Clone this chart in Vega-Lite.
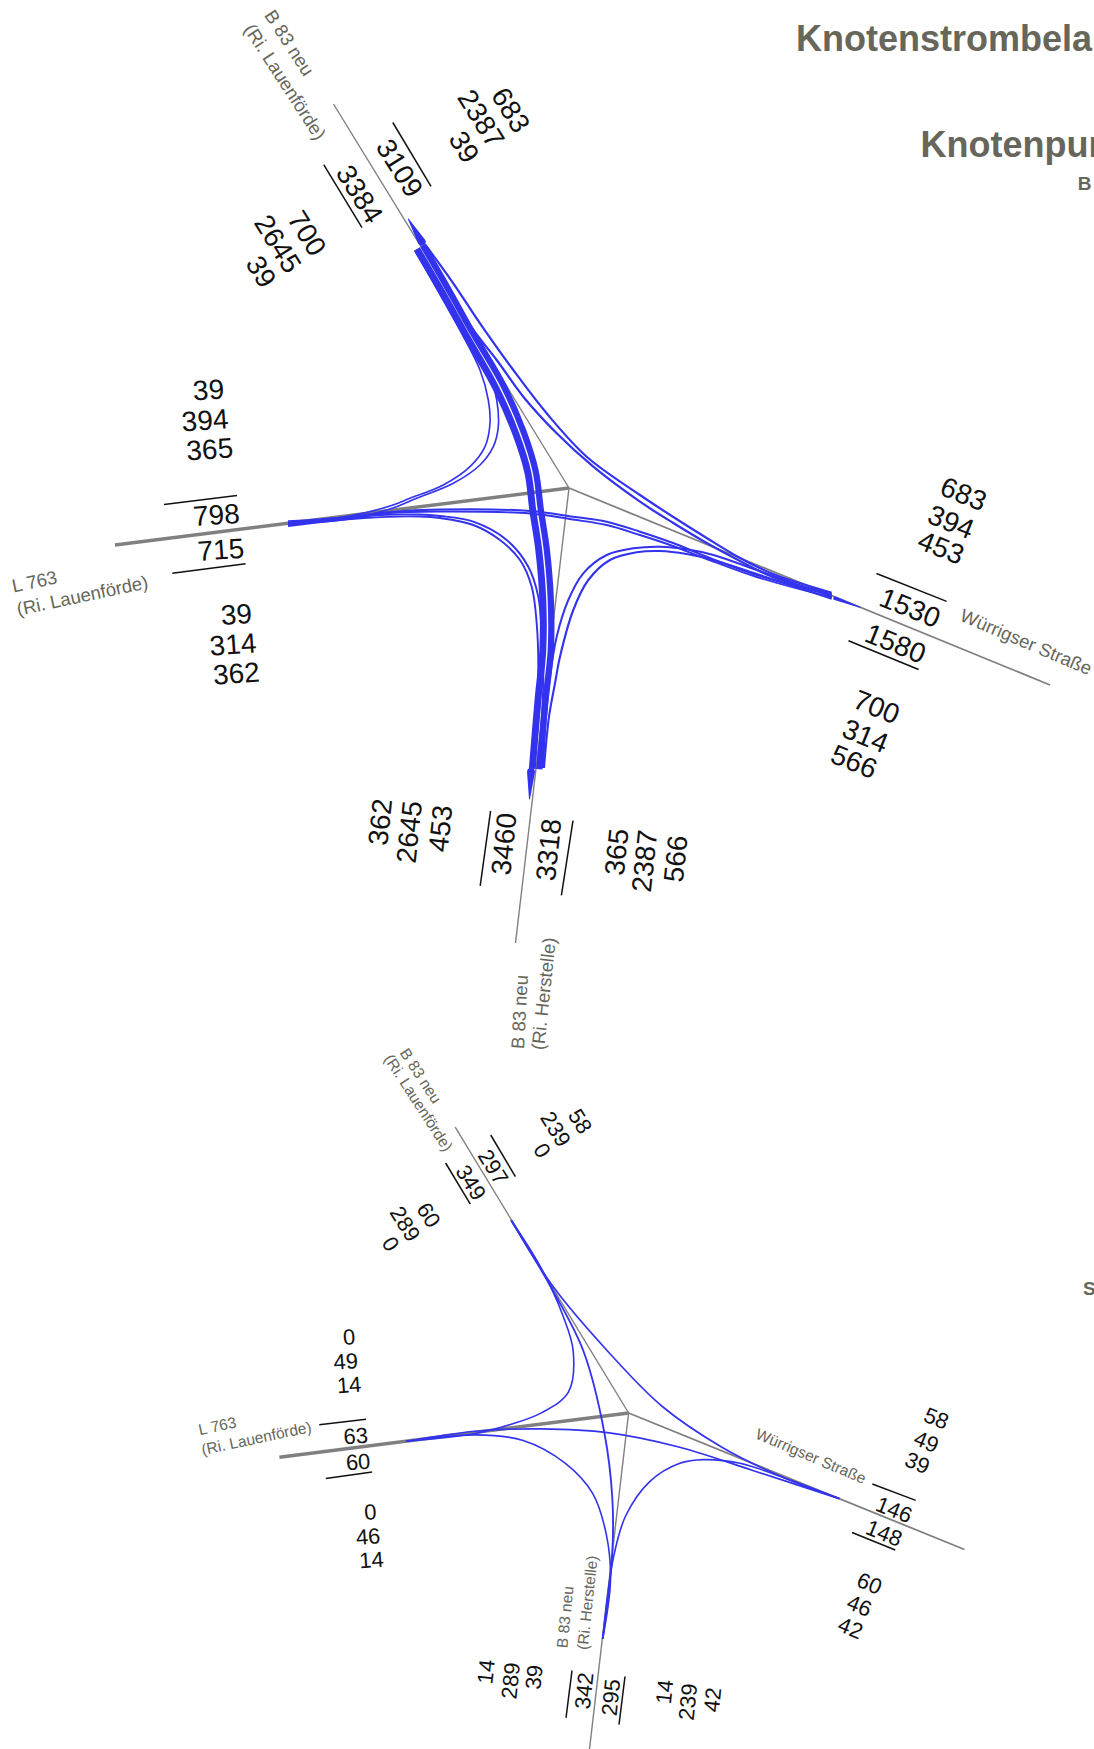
{"$schema":"https://vega.github.io/schema/vega-lite/v6.json","width":1094,"height":1749,"padding":0,"autosize":{"type":"none"},"background":"white","config":{"view":{"stroke":null},"text":{"font":"Liberation Sans"}},
"datasets":{
"roads":[
{"junction":"oben","arm":"NW","x":569,"y":488,"x2":333.5,"y2":104},
{"junction":"oben","arm":"W","x":569,"y":488,"x2":115,"y2":545},
{"junction":"oben","arm":"SE","x":569,"y":488,"x2":1050,"y2":685},
{"junction":"oben","arm":"S","x":569,"y":488,"x2":515.5,"y2":943},
{"junction":"unten","arm":"NW","x":628.6,"y":1413,"x2":455.2,"y2":1127.2},
{"junction":"unten","arm":"W","x":628.6,"y":1413,"x2":279.4,"y2":1457.3},
{"junction":"unten","arm":"SE","x":628.6,"y":1413,"x2":964.5,"y2":1549.5},
{"junction":"unten","arm":"S","x":628.6,"y":1413,"x2":589.5,"y2":1749}],
"ticks":[
{"x":392.8,"y":122.5,"x2":431,"y2":186.4},{"x":323.7,"y":164.6,"x2":362,"y2":227.7},
{"x":164,"y":504.4,"x2":237,"y2":495.6},{"x":172.3,"y":573.3,"x2":245.6,"y2":563.7},
{"x":876.5,"y":573.5,"x2":946.6,"y2":601.4},{"x":848.5,"y":640.8,"x2":918.6,"y2":669.5},
{"x":490.6,"y":810.8,"x2":480.2,"y2":885.8},{"x":573,"y":820.7,"x2":561.4,"y2":895.3},
{"x":490.7,"y":1135,"x2":515.4,"y2":1176.7},{"x":445.6,"y":1163,"x2":470.3,"y2":1204.2},
{"x":319.2,"y":1424.8,"x2":366.1,"y2":1419.3},{"x":325.8,"y":1478.4,"x2":372.1,"y2":1472},
{"x":872.4,"y":1484,"x2":915.7,"y2":1500.4},{"x":852,"y":1532.5,"x2":895.3,"y2":1550},
{"x":572,"y":1670.5,"x2":566,"y2":1717.8},{"x":625,"y":1676.5,"x2":619,"y2":1724.6}],
"streams":[
{"stream":"NW-W a","volume":39,"x":415,"y":251},{"stream":"NW-W a","volume":39,"x":439.5,"y":293.5},{"stream":"NW-W a","volume":39,"x":461.7,"y":333.3},{"stream":"NW-W a","volume":39,"x":480,"y":370},{"stream":"NW-W a","volume":39,"x":488.3,"y":400},{"stream":"NW-W a","volume":39,"x":490,"y":423.3},{"stream":"NW-W a","volume":39,"x":485,"y":446.7},{"stream":"NW-W a","volume":39,"x":470,"y":466.7},{"stream":"NW-W a","volume":39,"x":443.3,"y":485},{"stream":"NW-W a","volume":39,"x":410,"y":498.3},{"stream":"NW-W a","volume":39,"x":390,"y":506},{"stream":"NW-W a","volume":39,"x":349,"y":516},{"stream":"NW-W a","volume":39,"x":288,"y":521},
{"stream":"NW-W b","volume":39,"x":417,"y":250},{"stream":"NW-W b","volume":39,"x":443,"y":295},{"stream":"NW-W b","volume":39,"x":470,"y":346.7},{"stream":"NW-W b","volume":39,"x":490,"y":376.7},{"stream":"NW-W b","volume":39,"x":496.7,"y":400},{"stream":"NW-W b","volume":39,"x":498.3,"y":426.7},{"stream":"NW-W b","volume":39,"x":493.3,"y":446.7},{"stream":"NW-W b","volume":39,"x":480,"y":465},{"stream":"NW-W b","volume":39,"x":453.3,"y":483.3},{"stream":"NW-W b","volume":39,"x":416.7,"y":498.3},{"stream":"NW-W b","volume":39,"x":390,"y":509},{"stream":"NW-W b","volume":39,"x":349,"y":518},{"stream":"NW-W b","volume":39,"x":288,"y":522},
{"stream":"NW-SE a","volume":683,"x":425.5,"y":245},{"stream":"NW-SE a","volume":683,"x":453.3,"y":283.3},{"stream":"NW-SE a","volume":683,"x":480,"y":323.3},{"stream":"NW-SE a","volume":683,"x":513.3,"y":370},{"stream":"NW-SE a","volume":683,"x":546.7,"y":413.3},{"stream":"NW-SE a","volume":683,"x":586.7,"y":456.7},{"stream":"NW-SE a","volume":683,"x":640,"y":495},{"stream":"NW-SE a","volume":683,"x":673.3,"y":517},{"stream":"NW-SE a","volume":683,"x":706.7,"y":538},{"stream":"NW-SE a","volume":683,"x":740,"y":558},{"stream":"NW-SE a","volume":683,"x":773.3,"y":574},{"stream":"NW-SE a","volume":683,"x":831.7,"y":592.7},
{"stream":"NW-SE b","volume":700,"x":424,"y":246},{"stream":"NW-SE b","volume":700,"x":446.7,"y":290},{"stream":"NW-SE b","volume":700,"x":473.3,"y":330},{"stream":"NW-SE b","volume":700,"x":496.7,"y":360},{"stream":"NW-SE b","volume":700,"x":523.3,"y":396.7},{"stream":"NW-SE b","volume":700,"x":556.7,"y":433.3},{"stream":"NW-SE b","volume":700,"x":593.3,"y":466.7},{"stream":"NW-SE b","volume":700,"x":640,"y":501.7},{"stream":"NW-SE b","volume":700,"x":673.3,"y":523},{"stream":"NW-SE b","volume":700,"x":706.7,"y":543},{"stream":"NW-SE b","volume":700,"x":740,"y":561},{"stream":"NW-SE b","volume":700,"x":773,"y":577},{"stream":"NW-SE b","volume":700,"x":831.7,"y":594.3},
{"stream":"NW-S a","volume":2645,"x":416.9,"y":249},{"stream":"NW-S a","volume":2645,"x":441.9,"y":292},{"stream":"NW-S a","volume":2645,"x":465.8,"y":334.9},{"stream":"NW-S a","volume":2645,"x":496.2,"y":388.7},{"stream":"NW-S a","volume":2645,"x":516,"y":434.3},{"stream":"NW-S a","volume":2645,"x":527.9,"y":472.7},{"stream":"NW-S a","volume":2645,"x":532.8,"y":510.5},{"stream":"NW-S a","volume":2645,"x":538.8,"y":550.4},{"stream":"NW-S a","volume":2645,"x":542.8,"y":600},{"stream":"NW-S a","volume":2645,"x":542.8,"y":650},{"stream":"NW-S a","volume":2645,"x":538,"y":699.7},{"stream":"NW-S a","volume":2645,"x":532.3,"y":768.7},
{"stream":"NW-S b","volume":2387,"x":422.8,"y":245.2},{"stream":"NW-S b","volume":2387,"x":447.8,"y":288.2},{"stream":"NW-S b","volume":2387,"x":471.8,"y":331.3},{"stream":"NW-S b","volume":2387,"x":503.4,"y":385.5},{"stream":"NW-S b","volume":2387,"x":523.6,"y":431.9},{"stream":"NW-S b","volume":2387,"x":535.7,"y":471.4},{"stream":"NW-S b","volume":2387,"x":540.8,"y":509.6},{"stream":"NW-S b","volume":2387,"x":546.8,"y":549.7},{"stream":"NW-S b","volume":2387,"x":550.8,"y":600},{"stream":"NW-S b","volume":2387,"x":550.8,"y":650},{"stream":"NW-S b","volume":2387,"x":545.5,"y":700.3},{"stream":"NW-S b","volume":2387,"x":539.3,"y":769.3},
{"stream":"W-SE a","volume":394,"x":288,"y":523},{"stream":"W-SE a","volume":394,"x":340,"y":518},{"stream":"W-SE a","volume":394,"x":390,"y":512},{"stream":"W-SE a","volume":394,"x":440,"y":509.5},{"stream":"W-SE a","volume":394,"x":530,"y":511},{"stream":"W-SE a","volume":394,"x":573,"y":516.7},{"stream":"W-SE a","volume":394,"x":606.7,"y":521.7},{"stream":"W-SE a","volume":394,"x":640,"y":531.7},{"stream":"W-SE a","volume":394,"x":673,"y":543},{"stream":"W-SE a","volume":394,"x":706.7,"y":556.7},{"stream":"W-SE a","volume":394,"x":756.7,"y":575},{"stream":"W-SE a","volume":394,"x":831.7,"y":595.5},
{"stream":"W-SE b","volume":314,"x":288,"y":524},{"stream":"W-SE b","volume":314,"x":340,"y":520},{"stream":"W-SE b","volume":314,"x":390,"y":513},{"stream":"W-SE b","volume":314,"x":440,"y":511.5},{"stream":"W-SE b","volume":314,"x":530,"y":513.5},{"stream":"W-SE b","volume":314,"x":573,"y":519.5},{"stream":"W-SE b","volume":314,"x":606.7,"y":525},{"stream":"W-SE b","volume":314,"x":640,"y":535},{"stream":"W-SE b","volume":314,"x":673,"y":546},{"stream":"W-SE b","volume":314,"x":706.7,"y":559},{"stream":"W-SE b","volume":314,"x":756.7,"y":577},{"stream":"W-SE b","volume":314,"x":831.7,"y":597.5},
{"stream":"W-S a","volume":365,"x":288,"y":525},{"stream":"W-S a","volume":365,"x":364,"y":516},{"stream":"W-S a","volume":365,"x":420,"y":514.5},{"stream":"W-S a","volume":365,"x":440,"y":516},{"stream":"W-S a","volume":365,"x":473.3,"y":521.7},{"stream":"W-S a","volume":365,"x":506.7,"y":540},{"stream":"W-S a","volume":365,"x":528.3,"y":566.7},{"stream":"W-S a","volume":365,"x":538.3,"y":596.7},{"stream":"W-S a","volume":365,"x":541.7,"y":633.3},{"stream":"W-S a","volume":365,"x":543.3,"y":683.3},{"stream":"W-S a","volume":365,"x":538.3,"y":766.7},
{"stream":"W-S b","volume":362,"x":288,"y":526},{"stream":"W-S b","volume":362,"x":364,"y":518},{"stream":"W-S b","volume":362,"x":420,"y":516.5},{"stream":"W-S b","volume":362,"x":440,"y":518},{"stream":"W-S b","volume":362,"x":473.3,"y":525},{"stream":"W-S b","volume":362,"x":500,"y":540},{"stream":"W-S b","volume":362,"x":520,"y":560},{"stream":"W-S b","volume":362,"x":531.7,"y":586.7},{"stream":"W-S b","volume":362,"x":536.7,"y":623.3},{"stream":"W-S b","volume":362,"x":538.3,"y":666.7},{"stream":"W-S b","volume":362,"x":536.7,"y":716.7},{"stream":"W-S b","volume":362,"x":533.3,"y":766.7},
{"stream":"S-SE a","volume":453,"x":543,"y":768},{"stream":"S-SE a","volume":453,"x":546,"y":716.7},{"stream":"S-SE a","volume":453,"x":550,"y":676.7},{"stream":"S-SE a","volume":453,"x":556.7,"y":636.7},{"stream":"S-SE a","volume":453,"x":568.3,"y":600},{"stream":"S-SE a","volume":453,"x":583.3,"y":573.3},{"stream":"S-SE a","volume":453,"x":606.7,"y":555},{"stream":"S-SE a","volume":453,"x":633.3,"y":548.3},{"stream":"S-SE a","volume":453,"x":660,"y":546.7},{"stream":"S-SE a","volume":453,"x":686.7,"y":549.3},{"stream":"S-SE a","volume":453,"x":713.3,"y":555},{"stream":"S-SE a","volume":453,"x":756.7,"y":570},{"stream":"S-SE a","volume":453,"x":831.7,"y":596.5},
{"stream":"S-SE b","volume":566,"x":544,"y":768},{"stream":"S-SE b","volume":566,"x":549,"y":716.7},{"stream":"S-SE b","volume":566,"x":555,"y":683.3},{"stream":"S-SE b","volume":566,"x":560,"y":656.7},{"stream":"S-SE b","volume":566,"x":573.3,"y":610},{"stream":"S-SE b","volume":566,"x":588.3,"y":580},{"stream":"S-SE b","volume":566,"x":610,"y":560},{"stream":"S-SE b","volume":566,"x":636.7,"y":552.3},{"stream":"S-SE b","volume":566,"x":660,"y":551},{"stream":"S-SE b","volume":566,"x":686.7,"y":554},{"stream":"S-SE b","volume":566,"x":713.3,"y":560},{"stream":"S-SE b","volume":566,"x":756.7,"y":574},{"stream":"S-SE b","volume":566,"x":831.7,"y":598.7},
{"stream":"u NW-W","volume":14,"x":511.2,"y":1220.3},{"stream":"u NW-W","volume":14,"x":541.3,"y":1268.4},{"stream":"u NW-W","volume":14,"x":562.4,"y":1314.3},{"stream":"u NW-W","volume":14,"x":573.2,"y":1351},{"stream":"u NW-W","volume":14,"x":568.4,"y":1392.2},{"stream":"u NW-W","volume":14,"x":541.3,"y":1412.9},{"stream":"u NW-W","volume":14,"x":511.2,"y":1424.3},{"stream":"u NW-W","volume":14,"x":475.1,"y":1433.5},{"stream":"u NW-W","volume":14,"x":405.9,"y":1441.3},
{"stream":"u NW-SE","volume":60,"x":511.2,"y":1220.3},{"stream":"u NW-SE","volume":60,"x":553.3,"y":1286.8},{"stream":"u NW-SE","volume":60,"x":607.5,"y":1351},{"stream":"u NW-SE","volume":60,"x":661.7,"y":1406},{"stream":"u NW-SE","volume":60,"x":721.9,"y":1447.2},{"stream":"u NW-SE","volume":60,"x":782.1,"y":1477},{"stream":"u NW-SE","volume":60,"x":839.3,"y":1498.6},
{"stream":"u NW-S","volume":289,"x":511.2,"y":1220.3},{"stream":"u NW-S","volume":289,"x":553.3,"y":1291.3},{"stream":"u NW-S","volume":289,"x":583.4,"y":1351},{"stream":"u NW-S","volume":289,"x":604.5,"y":1433.5},{"stream":"u NW-S","volume":289,"x":612.3,"y":1497.7},{"stream":"u NW-S","volume":289,"x":612.3,"y":1552.7},{"stream":"u NW-S","volume":289,"x":602.7,"y":1638.9},
{"stream":"u W-SE","volume":49,"x":405.9,"y":1441.3},{"stream":"u W-SE","volume":49,"x":475.1,"y":1431.2},{"stream":"u W-SE","volume":49,"x":541.3,"y":1428.9},{"stream":"u W-SE","volume":49,"x":607.5,"y":1432.6},{"stream":"u W-SE","volume":49,"x":679.8,"y":1447.2},{"stream":"u W-SE","volume":49,"x":752,"y":1470.2},{"stream":"u W-SE","volume":49,"x":839.3,"y":1498.6},
{"stream":"u W-S","volume":14,"x":405.9,"y":1441.3},{"stream":"u W-S","volume":14,"x":475.1,"y":1434.9},{"stream":"u W-S","volume":14,"x":523.2,"y":1440.4},{"stream":"u W-S","volume":14,"x":565.4,"y":1463.3},{"stream":"u W-S","volume":14,"x":592.5,"y":1493.1},{"stream":"u W-S","volume":14,"x":606.3,"y":1534.4},{"stream":"u W-S","volume":14,"x":610.5,"y":1580.2},{"stream":"u W-S","volume":14,"x":602.7,"y":1638.9},
{"stream":"u S-SE","volume":42,"x":602.7,"y":1638.9},{"stream":"u S-SE","volume":42,"x":613.5,"y":1557.3},{"stream":"u S-SE","volume":42,"x":625.6,"y":1516},{"stream":"u S-SE","volume":42,"x":649.7,"y":1481.6},{"stream":"u S-SE","volume":42,"x":679.8,"y":1463.3},{"stream":"u S-SE","volume":42,"x":703.8,"y":1459.6},{"stream":"u S-SE","volume":42,"x":740,"y":1463.3},{"stream":"u S-SE","volume":42,"x":782.1,"y":1477},{"stream":"u S-SE","volume":42,"x":839.3,"y":1498.6}],
"wedges":[
{"arm":"NW","volume":0,"x":408.3,"y":219},{"arm":"NW","volume":3384,"x":421.7,"y":241.7},
{"arm":"SE","volume":0,"x":860,"y":607.3},{"arm":"SE","volume":1580,"x":835,"y":598.3},
{"arm":"S","volume":0,"x":529.5,"y":799},{"arm":"S","volume":3460,"x":531,"y":772}],
"numbers":[
{"junction":"oben","arm":"NW","text":"683","x":510.7,"y":110},{"junction":"oben","arm":"NW","text":"2387","x":481,"y":118.6},{"junction":"oben","arm":"NW","text":"39","x":464,"y":147},{"junction":"oben","arm":"NW","text":"3109","x":399.5,"y":168},{"junction":"oben","arm":"NW","text":"3384","x":359.5,"y":194},{"junction":"oben","arm":"NW","text":"700","x":307,"y":233.4},{"junction":"oben","arm":"NW","text":"2645","x":277.7,"y":243.8},{"junction":"oben","arm":"NW","text":"39","x":261,"y":271.7},
{"junction":"oben","arm":"W","text":"39","x":208.5,"y":390},{"junction":"oben","arm":"W","text":"394","x":205,"y":420.4},{"junction":"oben","arm":"W","text":"365","x":209.7,"y":449.4},{"junction":"oben","arm":"W","text":"798","x":216.3,"y":515},{"junction":"oben","arm":"W","text":"715","x":220.8,"y":549.8},{"junction":"oben","arm":"W","text":"39","x":236.4,"y":614.5},{"junction":"oben","arm":"W","text":"314","x":233,"y":644.6},{"junction":"oben","arm":"W","text":"362","x":236.4,"y":673.6},
{"junction":"oben","arm":"SE","text":"683","x":963.5,"y":494},{"junction":"oben","arm":"SE","text":"394","x":951,"y":522},{"junction":"oben","arm":"SE","text":"453","x":941,"y":547.6},{"junction":"oben","arm":"SE","text":"1530","x":910,"y":607.8},{"junction":"oben","arm":"SE","text":"1580","x":895.5,"y":643.5},{"junction":"oben","arm":"SE","text":"700","x":876.5,"y":707},{"junction":"oben","arm":"SE","text":"314","x":865.4,"y":736},{"junction":"oben","arm":"SE","text":"566","x":854,"y":761.7},
{"junction":"oben","arm":"S","text":"362","x":380.3,"y":822},{"junction":"oben","arm":"S","text":"2645","x":409.3,"y":832},{"junction":"oben","arm":"S","text":"453","x":440.5,"y":828.6},{"junction":"oben","arm":"S","text":"3460","x":504,"y":844},{"junction":"oben","arm":"S","text":"3318","x":548.7,"y":849.8},{"junction":"oben","arm":"S","text":"365","x":616.7,"y":852},{"junction":"oben","arm":"S","text":"2387","x":644.6,"y":861},{"junction":"oben","arm":"S","text":"566","x":675.8,"y":858.7},
{"junction":"unten","arm":"W","text":"0","x":349,"y":1336},{"junction":"unten","arm":"W","text":"49","x":345.7,"y":1360.5},{"junction":"unten","arm":"W","text":"14","x":349,"y":1384},{"junction":"unten","arm":"W","text":"63","x":355.7,"y":1435},{"junction":"unten","arm":"W","text":"60","x":358,"y":1461},{"junction":"unten","arm":"W","text":"0","x":370.2,"y":1511},{"junction":"unten","arm":"W","text":"46","x":368,"y":1535.6},{"junction":"unten","arm":"W","text":"14","x":371.4,"y":1559},
{"junction":"unten","arm":"NW","text":"58","x":581,"y":1120.8},{"junction":"unten","arm":"NW","text":"239","x":556.5,"y":1128.6},{"junction":"unten","arm":"NW","text":"0","x":543,"y":1150},{"junction":"unten","arm":"NW","text":"297","x":494,"y":1166.5},{"junction":"unten","arm":"NW","text":"349","x":471.7,"y":1182},{"junction":"unten","arm":"NW","text":"60","x":429.4,"y":1214.5},{"junction":"unten","arm":"NW","text":"289","x":406,"y":1223.4},{"junction":"unten","arm":"NW","text":"0","x":391.4,"y":1243.4},
{"junction":"unten","arm":"SE","text":"58","x":936.8,"y":1417.4},{"junction":"unten","arm":"SE","text":"49","x":926.7,"y":1440.8},{"junction":"unten","arm":"SE","text":"39","x":917.8,"y":1462},{"junction":"unten","arm":"SE","text":"146","x":894.4,"y":1508.9},{"junction":"unten","arm":"SE","text":"148","x":884.4,"y":1532.3},{"junction":"unten","arm":"SE","text":"60","x":869.9,"y":1582.5},{"junction":"unten","arm":"SE","text":"46","x":859.8,"y":1604.8},{"junction":"unten","arm":"SE","text":"42","x":850.9,"y":1627},
{"junction":"unten","arm":"S","text":"14","x":485,"y":1671.7},{"junction":"unten","arm":"S","text":"289","x":509.6,"y":1680.6},{"junction":"unten","arm":"S","text":"39","x":533,"y":1677},{"junction":"unten","arm":"S","text":"342","x":583.2,"y":1690.6},{"junction":"unten","arm":"S","text":"295","x":610,"y":1697.3},{"junction":"unten","arm":"S","text":"14","x":663.5,"y":1691.8},{"junction":"unten","arm":"S","text":"239","x":687,"y":1701.8},{"junction":"unten","arm":"S","text":"42","x":711.5,"y":1699.6}],
"names":[
{"junction":"oben","side":"NW","text":"B 83 neu","x":289,"y":43},{"junction":"oben","side":"NW","text":"(Ri. Lauenförde)","x":284.7,"y":82},
{"junction":"oben","side":"W","text":"L 763","x":34.6,"y":582},{"junction":"oben","side":"W","text":"(Ri. Lauenförde)","x":82.5,"y":596},
{"junction":"oben","side":"SE","text":"Würrigser Straße","x":1026,"y":642.3},
{"junction":"oben","side":"S1","text":"B 83 neu","x":520,"y":1012},{"junction":"oben","side":"S2","text":"(Ri. Herstelle)","x":544,"y":993.7},
{"junction":"unten","side":"NW","text":"B 83 neu","x":420.4,"y":1076},{"junction":"unten","side":"NW","text":"(Ri. Lauenförde)","x":418.2,"y":1103},
{"junction":"unten","side":"W","text":"L 763","x":217.5,"y":1426.3},{"junction":"unten","side":"W","text":"(Ri. Lauenförde)","x":256.5,"y":1438.6},
{"junction":"unten","side":"SE","text":"Würrigser Straße","x":810.8,"y":1456.4},
{"junction":"unten","side":"S2","text":"B 83 neu","x":565.4,"y":1617},{"junction":"unten","side":"S2","text":"(Ri. Herstelle)","x":587.7,"y":1602.6}],
"headings":[
{"level":"Kopf","text":"Knotenstrombela","x":796,"y":50.7},{"level":"Kopf","text":"Knotenpun","x":920.5,"y":156.7},{"level":"Unter","text":"B","x":1077.7,"y":190},{"level":"Unter","text":"S","x":1083,"y":1295}]
},
"encoding":{"x":{"field":"x","type":"quantitative","scale":{"domain":[0,1094],"nice":false,"zero":false},"axis":null},"y":{"field":"y","type":"quantitative","scale":{"domain":[0,1749],"reverse":true,"nice":false,"zero":false},"axis":null}},
"layer":[
{"data":{"name":"roads"},"mark":{"type":"rule","color":"#808080"},"encoding":{"x2":{"field":"x2"},"y2":{"field":"y2"},"strokeWidth":{"field":"arm","type":"nominal","scale":{"type":"ordinal","domain":["NW","W","SE","S"],"range":[1.4,3.5,1.8,1.4]},"legend":null}}},
{"data":{"name":"ticks"},"mark":{"type":"rule","color":"#111111","strokeWidth":1.5},"encoding":{"x2":{"field":"x2"},"y2":{"field":"y2"}}},
{"data":{"name":"streams"},"mark":{"type":"line","color":"#3333ee","interpolate":"catmull-rom","strokeCap":"butt"},"encoding":{"detail":{"field":"stream","type":"nominal"},"order":{"value":null},"strokeWidth":{"field":"volume","type":"quantitative","scale":{"domain":[0,683,2645],"range":[1.6,2.2,6.9]},"legend":null}}},
{"data":{"name":"wedges"},"mark":{"type":"trail","color":"#3333ee"},"encoding":{"detail":{"field":"arm","type":"nominal"},"order":{"value":null},"size":{"field":"volume","type":"quantitative","scale":{"domain":[0,3460],"range":[0,8]},"legend":null}}},
{"data":{"name":"numbers"},"mark":{"type":"text","align":"center","baseline":"middle","color":"#111111","dy":1.5},"encoding":{"text":{"field":"text","type":"nominal"},"angle":{"field":"arm","type":"nominal","scale":{"type":"ordinal","domain":["NW","W","SE","S"],"range":[58,-4,22,-84]},"legend":null},"size":{"field":"junction","type":"ordinal","scale":{"type":"ordinal","domain":["oben","unten"],"range":[28,22]},"legend":null}}},
{"data":{"name":"names"},"mark":{"type":"text","align":"center","baseline":"middle","color":"#66665a"},"encoding":{"text":{"field":"text","type":"nominal"},"angle":{"field":"side","type":"nominal","scale":{"type":"ordinal","domain":["NW","W","SE","S1","S2"],"range":[57,-12,23,-87,-84]},"legend":null},"size":{"field":"junction","type":"ordinal","scale":{"type":"ordinal","domain":["oben","unten"],"range":[18.5,15.5]},"legend":null}}},
{"data":{"name":"headings"},"mark":{"type":"text","align":"left","baseline":"alphabetic","fontWeight":"bold","color":"#66665a"},"encoding":{"text":{"field":"text","type":"nominal"},"size":{"field":"level","type":"ordinal","scale":{"type":"ordinal","domain":["Kopf","Unter"],"range":[36,19]},"legend":null}}}
],
"resolve":{"scale":{"strokeWidth":"independent","size":"independent","angle":"independent"}}}
